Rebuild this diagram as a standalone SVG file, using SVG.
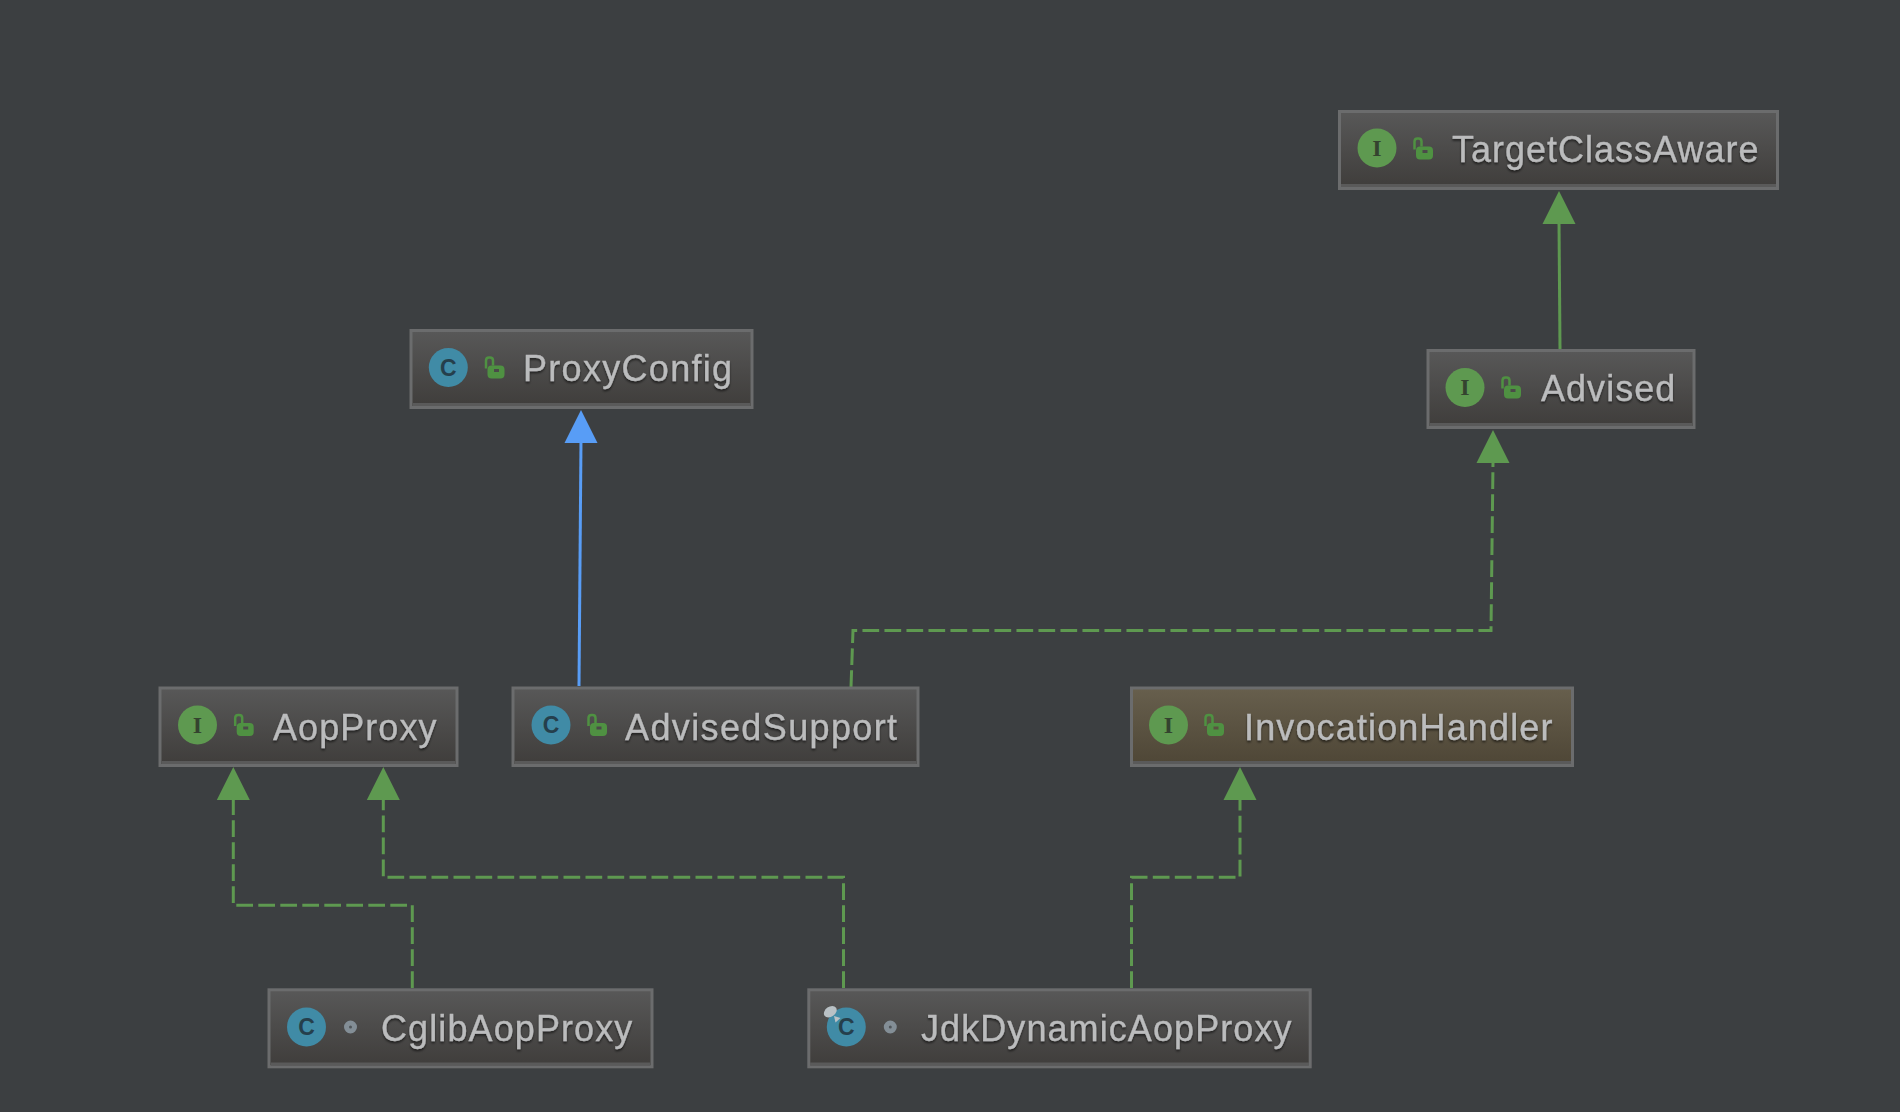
<svg xmlns="http://www.w3.org/2000/svg" width="1900" height="1112" viewBox="0 0 1900 1112">
<style>
.box{fill:url(#g);stroke:#6b6c6d;stroke-width:3}
.box.y{fill:url(#gy)}
.foot{stroke:#5a5a5a;stroke-width:3;fill:none}
.t{font-family:"Liberation Sans",Arial,sans-serif;font-size:36px;fill:#bbbcbd;stroke:#bbbcbd;stroke-width:.3;filter:url(#sh)}
.ci{fill:#5e9950}.cc{fill:#408ba6}
.il{font-family:"Liberation Serif",serif;font-weight:700;font-size:24px;fill:#34432f;text-anchor:middle}
.cl{font-family:"Liberation Sans",sans-serif;font-weight:700;font-size:23px;fill:#253f4c;text-anchor:middle}
.dash{fill:none;stroke:#5e9950;stroke-width:3;stroke-dasharray:16.7 5.3}
.solid{fill:none;stroke:#5e9950;stroke-width:3}
.blue{fill:none;stroke:#589df6;stroke-width:3}
.ah{fill:#5e9950}.ab{fill:#589df6}
.lockb{fill:#4f9142}.locks{fill:none;stroke:#4f9142;stroke-width:2.500}
.dot{fill:#50565a;stroke:#838e96;stroke-width:5}
</style>
<defs>
<linearGradient id="g" x1="0" y1="0" x2="0" y2="1"><stop offset="0" stop-color="#585858"/><stop offset="1" stop-color="#3f3d3b"/></linearGradient>
<linearGradient id="gy" x1="0" y1="0" x2="0" y2="1"><stop offset="0" stop-color="#675f4d"/><stop offset="1" stop-color="#4e4636"/></linearGradient>
<filter id="sh" x="-5%" y="-20%" width="110%" height="150%"><feDropShadow dx="0" dy="2" stdDeviation="0.8" flood-color="#000" flood-opacity="0.55"/></filter>
<g id="lock"><path class="locks" d="M-6.500 -1V-9Q-6.500 -12 -3.500 -12H-2.500Q0.500 -12 0.500 -9V-4"/><path class="lockb" fill-rule="evenodd" d="M-1 -4H8Q12 -4 12 0V5Q12 9 8 9H-1Q-5 9 -5 5V0Q-5 -4 -1 -4ZM1.500 -0.500V2.500H6.500V-0.500Z"/></g>
</defs>
<rect width="1900" height="1112" fill="#3c3f41"/>
<g id="connectors">
<path class="solid" d="M1560 349L1559 222"/><path class="ah" d="M1559 191L1575.500 224H1542.500Z"/>
<path class="blue" d="M579 686L581 440"/><path class="ab" d="M581 410L597.500 443H564.500Z"/>
<path class="dash" d="M851 687L853 630.500H1491L1493 463"/><path class="ah" d="M1493 430L1509.500 463H1476.500Z"/>
<path class="dash" d="M412.300 988V905.300H233.300V800"/><path class="ah" d="M233.300 767L249.800 800H216.800Z"/>
<path class="dash" d="M843.500 988V877.300H383.300V800"/><path class="ah" d="M383.300 767L399.800 800H366.800Z"/>
<path class="dash" d="M1131.500 988V877.300H1240V800"/><path class="ah" d="M1240 767L1256.500 800H1223.500Z"/>
</g>
<g id="TargetClassAware"><rect class="box" x="1339.500" y="111.500" width="438" height="77"/><path class="foot" d="M1341 185.500H1776"/><circle class="ci" cx="1377" cy="148" r="19.500"/><text class="il" x="1377" y="155.700">I</text><use href="#lock" x="1421" y="150.500"/><text class="t" x="1452" y="162" letter-spacing="1">TargetClassAware</text></g>
<g id="Advised"><rect class="box" x="1428" y="350.500" width="266" height="77"/><path class="foot" d="M1430 424.500H1692"/><circle class="ci" cx="1465" cy="387.500" r="19.500"/><text class="il" x="1465" y="395">I</text><use href="#lock" x="1509" y="389.500"/><text class="t" x="1541" y="401" letter-spacing="1.04">Advised</text></g>
<g id="ProxyConfig"><rect class="box" x="411" y="330.500" width="341" height="77"/><path class="foot" d="M413 404.500H750"/><circle class="cc" cx="448.300" cy="367.500" r="19.500"/><text class="cl" x="448.300" y="375.500">C</text><use href="#lock" x="492.500" y="369.500"/><text class="t" x="523" y="381" letter-spacing="1.3">ProxyConfig</text></g>
<g id="AopProxy"><rect class="box" x="160" y="688" width="297" height="77.500"/><path class="foot" d="M162 762.500H455"/><circle class="ci" cx="197.500" cy="725" r="19.500"/><text class="il" x="197.500" y="732.700">I</text><use href="#lock" x="241.700" y="727"/><text class="t" x="273" y="739.500" letter-spacing="1.06">AopProxy</text></g>
<g id="AdvisedSupport"><rect class="box" x="513" y="688" width="405" height="77.500"/><path class="foot" d="M515 762.500H916"/><circle class="cc" cx="551" cy="725" r="19.500"/><text class="cl" x="551" y="733">C</text><use href="#lock" x="595" y="727"/><text class="t" x="625" y="739.500" letter-spacing="1.38">AdvisedSupport</text></g>
<g id="InvocationHandler"><rect class="box y" x="1131.500" y="688" width="441" height="77.500"/><path class="foot" d="M1133 762.500H1571"/><circle class="ci" cx="1168.500" cy="725" r="19.500"/><text class="il" x="1168.500" y="732.700">I</text><use href="#lock" x="1212" y="727"/><text class="t" x="1244" y="739.500" letter-spacing="1.14">InvocationHandler</text></g>
<g id="CglibAopProxy"><rect class="box" x="269" y="989.800" width="383" height="77"/><path class="foot" d="M271 1064H650"/><circle class="cc" cx="306.500" cy="1027" r="19.500"/><text class="cl" x="306.500" y="1035">C</text><circle class="dot" cx="350.500" cy="1027" r="4"/><text class="t" x="381" y="1041" letter-spacing="1.1">CglibAopProxy</text></g>
<g id="JdkDynamicAopProxy"><rect class="box" x="808.800" y="989.800" width="501.400" height="77"/><path class="foot" d="M810 1064H1309"/><circle class="cc" cx="846.300" cy="1027" r="19.500"/><text class="cl" x="846.300" y="1035">C</text><ellipse cx="830.300" cy="1011.700" rx="7" ry="5" transform="rotate(-35 830.300 1011.700)" fill="#b9c1c5"/><path d="M834 1016L840.500 1018L835.500 1022.500Z" fill="#b9c1c5"/><circle class="dot" cx="890.300" cy="1027" r="4"/><text class="t" x="921" y="1041" letter-spacing="1.08">JdkDynamicAopProxy</text></g>
</svg>
